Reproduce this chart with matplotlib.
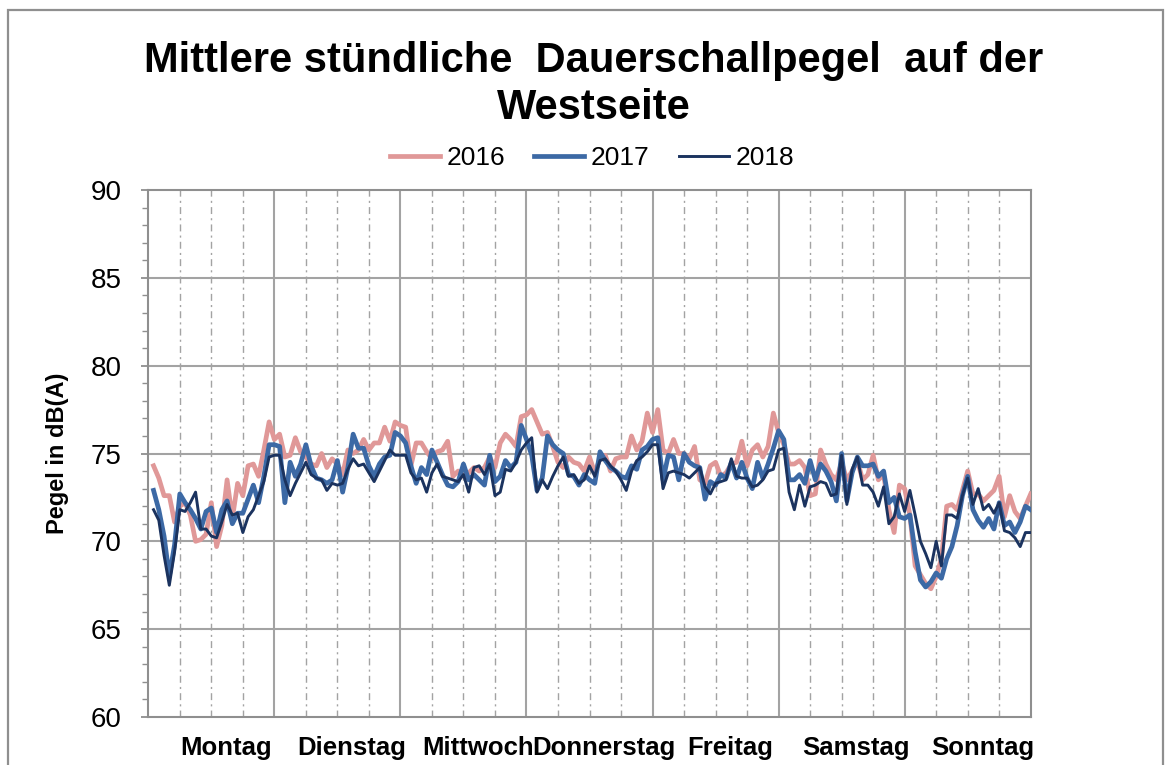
import numpy as np
import matplotlib
matplotlib.use("Agg")
import matplotlib.pyplot as plt
from matplotlib.patches import Rectangle
import matplotlib.transforms as mtransforms

plt.rcParams['font.family'] = ['Liberation Sans', 'DejaVu Sans']

# Wochentage und stuendliche Mittelwerte (Stunde 1..24 je Tag)
days = ['Montag', 'Dienstag', 'Mittwoch', 'Donnerstag', 'Freitag', 'Samstag', 'Sonntag']
years = ['2016', '2017', '2018']

pegel_2016 = [
    74.3, 73.6, 72.6, 72.6, 71.1, 72.0, 72.2, 71.5, 70.0, 70.1, 70.4, 72.2, 69.7, 70.9, 73.5, 71.3, 73.3, 72.6, 74.3, 74.4, 73.7, 75.2, 76.8, 75.8,
    76.1, 74.8, 74.9, 75.9, 75.1, 74.8, 74.4, 74.3, 75.0, 74.2, 74.7, 74.4, 73.8, 75.2, 75.0, 75.2, 75.8, 75.2, 75.6, 75.6, 76.5, 75.7, 76.8, 76.6,
    76.5, 74.3, 75.6, 75.6, 75.1, 74.7, 75.1, 75.2, 75.7, 73.7, 74.0, 73.7, 73.9, 74.2, 74.0, 74.2, 74.8, 74.2, 75.6, 76.1, 75.8, 75.4, 77.1, 77.2,
    77.5, 76.8, 76.1, 76.2, 75.4, 74.5, 74.2, 74.8, 74.5, 74.4, 74.0, 74.8, 73.9, 74.7, 74.9, 74.0, 74.7, 74.8, 74.8, 76.0, 75.2, 75.7, 77.3, 76.2,
    77.5, 75.2, 75.0, 75.8, 75.0, 75.0, 74.7, 75.4, 73.5, 73.3, 74.3, 74.5, 73.7, 73.9, 74.4, 74.5, 75.7, 74.3, 75.2, 75.5, 74.8, 75.4, 77.3, 76.2,
    75.5, 74.4, 74.4, 74.6, 74.2, 72.6, 72.7, 75.2, 74.4, 73.8, 73.5, 74.5, 73.5, 74.0, 74.6, 73.5, 73.8, 74.9, 73.5, 73.8, 71.8, 70.5, 73.2, 73.0,
    71.5, 68.6, 68.1, 67.6, 67.3, 68.0, 69.0, 72.0, 72.1, 71.8, 72.9, 74.0, 72.7, 72.7, 72.3, 72.6, 72.9, 73.7, 71.4, 72.6, 71.7, 71.3, 72.0, 72.7,
]
pegel_2017 = [
    72.9, 71.8, 70.3, 68.0, 69.8, 72.7, 72.2, 71.8, 71.3, 70.7, 71.7, 71.9, 70.5, 71.8, 72.3, 71.0, 71.6, 71.6, 72.4, 73.2, 72.2, 73.7, 75.5, 75.5,
    75.4, 72.2, 74.5, 73.7, 74.4, 75.5, 74.3, 73.6, 73.5, 73.3, 73.5, 74.6, 72.8, 74.2, 76.1, 75.3, 75.3, 74.3, 73.7, 74.4, 74.8, 74.9, 76.2, 76.0,
    75.6, 74.3, 73.3, 74.2, 73.8, 75.2, 74.5, 73.8, 73.2, 73.1, 73.4, 74.4, 73.5, 73.8, 73.5, 73.2, 74.9, 73.4, 73.7, 74.6, 74.2, 74.5, 76.6, 75.8,
    74.9, 72.9, 73.6, 76.0, 75.5, 75.2, 75.0, 73.8, 73.7, 73.2, 73.8, 73.5, 73.3, 75.1, 74.6, 74.2, 74.0, 73.7, 73.6, 74.3, 74.1, 75.2, 75.4, 75.8,
    75.9, 73.5, 74.9, 74.8, 73.5, 75.0, 74.5, 74.3, 74.2, 72.4, 73.4, 73.2, 73.8, 73.6, 74.5, 73.6, 74.5, 73.6, 73.0, 74.5, 73.6, 74.4, 75.3, 76.3,
    75.8, 73.5, 73.5, 73.8, 73.3, 74.6, 73.5, 74.4, 74.0, 73.4, 72.3, 75.0, 72.3, 73.9, 74.8, 74.3, 74.3, 74.4, 73.7, 74.0, 72.2, 72.5, 71.4, 71.3,
    71.5, 69.4, 67.8, 67.4, 67.7, 68.2, 67.9, 69.0, 69.7, 70.9, 72.6, 73.7, 71.8, 71.2, 70.8, 71.3, 70.7, 72.2, 70.9, 71.1, 70.5, 71.1, 72.0, 71.8,
]
pegel_2018 = [
    71.8, 71.2, 69.2, 67.5, 69.4, 71.8, 71.7, 72.2, 72.8, 70.7, 70.7, 70.3, 70.2, 71.1, 72.1, 71.5, 71.6, 70.5, 71.4, 71.8, 72.6, 73.4, 74.8, 74.9,
    74.9, 73.5, 72.6, 73.3, 73.9, 74.5, 73.8, 73.6, 73.5, 72.9, 73.3, 73.2, 73.3, 74.1, 74.7, 74.3, 74.4, 73.9, 73.4, 74.0, 74.6, 75.2, 74.9, 74.9,
    74.9, 73.9, 73.5, 73.6, 72.8, 73.9, 74.4, 73.7, 73.6, 73.5, 73.4, 73.8, 72.8, 74.2, 74.3, 73.8, 74.4, 72.6, 72.8, 74.1, 74.0, 74.5, 75.2, 75.6,
    75.9, 72.8, 73.5, 73.0, 73.7, 74.3, 74.8, 73.7, 73.8, 73.3, 73.5, 74.3, 73.7, 74.6, 74.7, 74.3, 74.0, 73.5, 72.9, 74.0, 74.6, 74.8, 75.1, 75.5,
    75.5, 73.0, 73.9, 74.0, 73.9, 73.8, 73.6, 73.9, 74.2, 73.1, 72.7, 73.3, 73.4, 73.5, 74.7, 73.7, 73.6, 73.6, 73.1, 73.2, 73.5, 74.0, 74.1, 75.2,
    75.3, 72.8, 71.8, 73.2, 72.0, 73.1, 73.2, 73.4, 73.3, 72.6, 72.7, 74.9, 72.1, 74.1, 74.8, 73.2, 73.2, 72.8, 72.0, 73.1, 71.0, 71.4, 72.7, 71.7,
    72.9, 71.5, 70.0, 69.3, 68.5, 70.0, 68.6, 71.5, 71.5, 71.3, 72.6, 73.6, 72.1, 73.0, 71.8, 72.1, 71.6, 72.2, 70.6, 70.5, 70.2, 69.7, 70.5, 70.5,
]

hours = np.arange(1, len(pegel_2016) + 1)
n_hours = 24 * len(days)

fig = plt.figure(figsize=(11.7, 7.65), dpi=100)
ax = fig.add_axes([148.3 / 1170, 48 / 765, 882.4 / 1170, 527 / 765])

grid_col = '#a3a3a3'

# Rahmen um das Diagramm
fig.patches.append(Rectangle((8 / 1170, -0.1), (1163 - 8) / 1170, (755 / 765) + 0.1,
                             transform=fig.transFigure, fill=False,
                             edgecolor='#8f8f8f', linewidth=1.6))

# Gitter: Tagesgrenzen durchgezogen, 6-Stunden gestrichelt
for h in range(6, n_hours, 6):
    if h % 24 == 0:
        ax.axvline(h, color=grid_col, lw=1.5, zorder=1)
    else:
        ax.axvline(h, color=grid_col, lw=1.0, ls=(0, (5, 3, 1.5, 3)), zorder=1)
for v in range(65, 90, 5):
    ax.axhline(v, color=grid_col, lw=1.5, zorder=1)

ax.plot(hours, pegel_2016, color='#e09898', lw=3.4, label=years[0], zorder=3)
ax.plot(hours, pegel_2017, color='#3c69a5', lw=3.4, label=years[1], zorder=4)
ax.plot(hours, pegel_2018, color='#1b335f', lw=2.1, label=years[2], zorder=5)

ax.set_xlim(0, n_hours)
ax.set_ylim(60, 90)
ax.set_yticks(range(60, 91, 5))
ax.set_yticks(range(60, 91, 1), minor=True)
ax.set_xticks([])
ax.tick_params(axis='y', which='major', direction='out', length=5, width=1.3,
               color='#8f8f8f', labelsize=20, pad=14)
ax.tick_params(axis='y', which='minor', direction='out', length=4, width=1.0,
               color='#8f8f8f')
for s in ax.spines.values():
    s.set_color('#8f8f8f')
    s.set_linewidth(1.5)

ax.set_ylabel('Pegel in dB(A)', fontsize=17, fontweight='bold', labelpad=16)

# Tagesbeschriftung
trans = mtransforms.blended_transform_factory(ax.transData, ax.transAxes)
for i, d in enumerate(days):
    ax.text(i * 24 + 14.8, -0.059, d, transform=trans, ha='center', va='center',
            fontsize=18.5, fontweight='bold')

fig.text(594 / 1170, 1 - 61 / 765, 'Mittlere stündliche  Dauerschallpegel  auf der',
         ha='center', va='center', fontsize=30, fontweight='bold')
fig.text(594 / 1170, 1 - 108 / 765, 'Westseite',
         ha='center', va='center', fontsize=30, fontweight='bold')

ax.legend(loc='center', bbox_to_anchor=(592 / 1170, 1 - 158 / 765),
          bbox_transform=fig.transFigure, ncol=3, frameon=False, fontsize=19,
          handlelength=1.9, handletextpad=0.25, columnspacing=1.1)

fig.savefig('out.png', dpi=100)
